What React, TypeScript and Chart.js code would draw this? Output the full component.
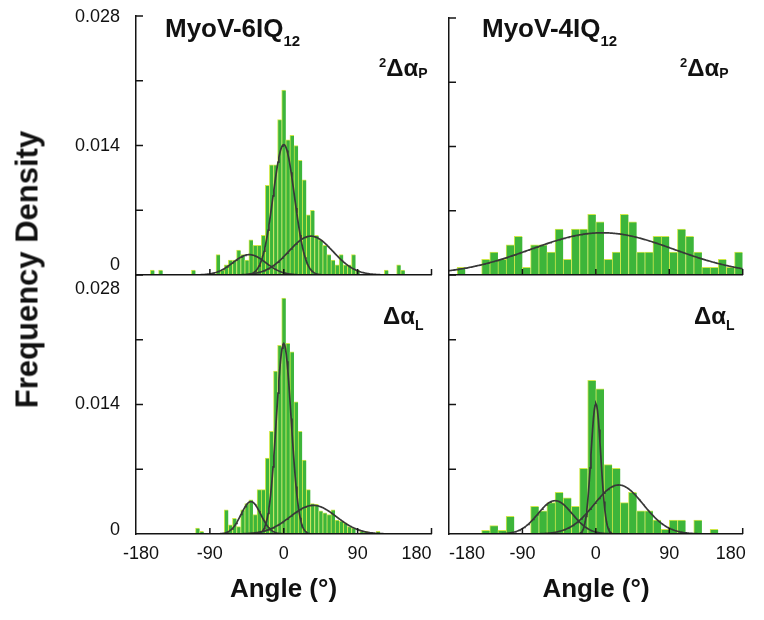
import React, { useEffect, useRef } from "react";
import { Chart, registerables } from "chart.js";

Chart.register(...registerables);

const FONT = '"Liberation Sans", Arial, Helvetica, sans-serif';
const AXIS_COLOR = "#141414";
const BAR_FILL = "#3db53a";
const BAR_EDGE = "#cfe84a";
const FIT_COLOR = "#383838";

// Axes
const angleMin = -180;
const angleMax = 180;
const angleStep = 90;
const densityMax = 0.028;
const densityStep = 0.007;

// Histogram bin centres (degrees)
const binCenters5 = Array.from({ length: 73 }, (_, i) => -180 + 5 * i); // 5-degree bins
const binCenters10 = Array.from({ length: 36 }, (_, i) => -175 + 10 * i); // 10-degree bins

// MyoV-6IQ12, 2ΔαP  (5-degree bins, -180 .. 180)
const density6P = [
  0, 0, 0, 0, 0.00054, 0, 0.00054, 0, 0, 0,
  0, 0, 0, 0, 0.00054, 0, 0, 0, 0, 0,
  0.0022, 0.00054, 0.0011, 0.0016, 0.0016, 0.0027, 0.0022, 0.0016, 0.0038, 0.0032,
  0.0032, 0.0043, 0.0097, 0.0119, 0.0119, 0.0168, 0.02, 0.0146, 0.0151, 0.014,
  0.0124, 0.0103, 0.0065, 0.007, 0.0043, 0.0038, 0.0032, 0.0022, 0.0016, 0.0011,
  0.0022, 0.0011, 0.0011, 0.0022, 0.00054, 0, 0, 0, 0, 0,
  0, 0.00054, 0, 0, 0.0011, 0.00054, 0, 0, 0, 0,
  0, 0, 0,
];

// MyoV-6IQ12, ΔαL  (5-degree bins)
const density6L = [
  0, 0, 0, 0, 0, 0, 0, 0, 0, 0,
  0, 0, 0, 0, 0, 0.00065, 0.0003, 0, 0, 0,
  0, 0, 0.0026, 0.001, 0.0017, 0.0008, 0.0026, 0.0033, 0.0037, 0.0021,
  0.0048, 0.0048, 0.0082, 0.0111, 0.0176, 0.0204, 0.0255, 0.0206, 0.0197, 0.0143,
  0.0111, 0.008, 0.0048, 0.0033, 0.0032, 0.0025, 0.0023, 0.0021, 0.0026, 0.0015,
  0.0014, 0.0012, 0.0008, 0.00065, 0, 0.0003, 0.0003, 0, 0, 0.0003,
  0, 0, 0, 0, 0, 0, 0, 0, 0, 0,
  0, 0, 0,
];

// MyoV-4IQ12, 2ΔαP  (10-degree bins)
const density4P = [
  0, 0.00083, 0, 0, 0.0017, 0.0025, 0.0017, 0.0033, 0.0042, 0.00083,
  0.0033, 0.0033, 0.0025, 0.005, 0.0017, 0.005, 0.005, 0.0066, 0.0058, 0.0017,
  0.0025, 0.0066, 0.0058, 0.0025, 0.0025, 0.0042, 0.0042, 0.0025, 0.005, 0.0042,
  0.0025, 0.00083, 0.00083, 0.0017, 0.00083, 0.0025,
];

// MyoV-4IQ12, ΔαL  (10-degree bins)
const density4L = [
  0, 0, 0, 0, 0.0004, 0.0009, 0.0004, 0.0019, 0, 0,
  0.003, 0.0025, 0.0034, 0.0045, 0.0039, 0.003, 0.0071, 0.0166, 0.0157, 0.0075,
  0.0071, 0.0034, 0.0045, 0.0025, 0.0025, 0.0015, 0.0005, 0.0015, 0.0015, 0,
  0.0015, 0, 0.0005, 0, 0, 0,
];

// Fitted Gaussian components: centre (deg), peak density, sigma (deg)
const fit6PCenter = [-42, 0, 33];
const fit6PPeak = [0.0022, 0.0141, 0.0042];
const fit6PSigma = [20, 13, 27];

const fit4PCenter = [8];
const fit4PPeak = [0.0046];
const fit4PSigma = [88];

const fit6LCenter = [-40, 0, 36];
const fit6LPeak = [0.0035, 0.0206, 0.0031];
const fit6LSigma = [12, 9, 28];

const fit4LCenter = [-50, 0, 28];
const fit4LPeak = [0.0036, 0.0141, 0.0053];
const fit4LSigma = [21, 6, 30];

const fitAngles = Array.from({ length: 361 }, (_, i) => -180 + i);

type Nudge = Record<string, [number, number]>;

type PanelSpec = {
  key: string;
  left: number;
  top: number;
  width: number;
  height: number;
  padding: { left: number; right: number; top: number; bottom: number };
  yWidth: number;
  xHeight: number;
  centers: number[];
  density: number[];
  fitCenter: number[];
  fitPeak: number[];
  fitSigma: number[];
  xLabels: boolean;
  yLabels: boolean;
  nudgeX: Nudge;
  nudgeY: Nudge;
};

const near = (a: number, b: number) => Math.abs(a - b) < 1e-7;

// tick marks drawn on the inside of the axes
const innerTicks = {
  id: "innerTicks",
  afterDraw(chart: any) {
    const { ctx, chartArea } = chart;
    const { left, bottom } = chartArea;
    ctx.save();
    ctx.strokeStyle = AXIS_COLOR;
    ctx.lineWidth = 1.5;
    const xs = chart.scales.x;
    xs.ticks.forEach((t: any) => {
      const px = xs.getPixelForValue(t.value);
      if (Math.abs(px - left) < 1) return;
      ctx.beginPath();
      ctx.moveTo(px, bottom);
      ctx.lineTo(px, bottom - 6);
      ctx.stroke();
    });
    const ys = chart.scales.y;
    ys.ticks.forEach((t: any) => {
      const py = ys.getPixelForValue(t.value);
      if (Math.abs(py - bottom) < 1) return;
      ctx.beginPath();
      ctx.moveTo(left, py);
      ctx.lineTo(left + 7, py);
      ctx.stroke();
    });
    ctx.restore();
  },
};

// small offsets for individual tick labels (as in the figure, where they avoid each other)
const labelNudge = {
  id: "labelNudge",
  beforeDraw(chart: any, _args: any, opts: any) {
    ["x", "y"].forEach((axis) => {
      const map = opts && opts[axis];
      const sc = chart.scales[axis];
      if (!map || !sc || !sc.options.ticks.display) return;
      const items = sc.getLabelItems(chart.chartArea);
      items.forEach((it: any) => {
        if (it.__nudged) return;
        const key = Array.isArray(it.label) ? it.label.join("") : String(it.label);
        const d = map[key];
        if (d) {
          it.options.translation[0] += d[0];
          it.options.translation[1] += d[1];
        }
        it.__nudged = true;
      });
    });
  },
};

function buildConfig(s: PanelSpec) {
  const bars = s.centers.map((x, i) => ({ x, y: s.density[i] > 0 ? s.density[i] : null }));
  const fits = s.fitCenter.map((c, j) => ({
    type: "line",
    data: fitAngles.map((a) => ({
      x: a,
      y: s.fitPeak[j] * Math.exp(-((a - c) * (a - c)) / (2 * s.fitSigma[j] * s.fitSigma[j])),
    })),
    borderColor: FIT_COLOR,
    borderWidth: 1.7,
    pointRadius: 0,
    fill: false,
    tension: 0,
    order: 0,
  }));
  const yCallback = (v: number) => {
    if (near(v, 0.028)) return "0.028";
    if (near(v, 0.014)) return "0.014";
    if (near(v, 0)) return "0";
    return "";
  };
  return {
    type: "bar",
    data: {
      datasets: [
        {
          type: "bar",
          data: bars,
          backgroundColor: BAR_FILL,
          borderColor: BAR_EDGE,
          borderWidth: { top: 1, left: 1, right: 0, bottom: 0 },
          borderSkipped: false,
          barPercentage: 1,
          categoryPercentage: 1,
          order: 1,
        },
        ...fits,
      ],
    },
    options: {
      responsive: false,
      animation: false,
      devicePixelRatio: 1,
      layout: { padding: s.padding },
      plugins: {
        legend: { display: false },
        tooltip: { enabled: false },
        title: { display: false },
        labelNudge: { x: s.nudgeX, y: s.nudgeY },
      },
      scales: {
        x: {
          type: "linear",
          min: angleMin,
          max: angleMax,
          offset: false,
          grid: { display: false, drawTicks: false, offset: false },
          border: { display: true, color: AXIS_COLOR, width: 1.5, z: 1 },
          ticks: {
            display: s.xLabels,
            stepSize: angleStep,
            align: "inner",
            padding: 9,
            autoSkip: false,
            maxRotation: 0,
            color: "#111",
            font: { family: FONT, size: 18 },
            callback: (v: number) => String(v),
          },
          afterFit: (sc: any) => {
            sc.height = s.xHeight;
          },
        },
        y: {
          type: "linear",
          min: 0,
          max: densityMax,
          grid: { display: false, drawTicks: false },
          border: { display: true, color: AXIS_COLOR, width: 1.5, z: 1 },
          ticks: {
            display: s.yLabels,
            stepSize: densityStep,
            padding: 16,
            autoSkip: false,
            color: "#111",
            font: { family: FONT, size: 18 },
            callback: yCallback,
          },
          afterFit: (sc: any) => {
            sc.width = s.yWidth;
          },
        },
      },
    },
    plugins: [innerTicks, labelNudge],
  };
}

const panels: PanelSpec[] = [
  {
    key: "tl",
    left: 0, top: -30, width: 445, height: 345,
    padding: { left: 0, top: 46, right: 13.5, bottom: 40 },
    yWidth: 136, xHeight: 0,
    centers: binCenters5, density: density6P,
    fitCenter: fit6PCenter, fitPeak: fit6PPeak, fitSigma: fit6PSigma,
    xLabels: false, yLabels: true,
    nudgeX: {},
    nudgeY: { "0.028": [0, 1], "0.014": [0, 1], "0": [0, -9.5] },
  },
  {
    key: "bl",
    left: 0, top: 230, width: 445, height: 350,
    padding: { left: 0, top: 45, right: 13.5, bottom: 10 },
    yWidth: 136, xHeight: 36,
    centers: binCenters5, density: density6L,
    fitCenter: fit6LCenter, fitPeak: fit6LPeak, fitSigma: fit6LSigma,
    xLabels: true, yLabels: true,
    nudgeX: { "-180": [-13, 0] },
    nudgeY: { "0.028": [0, 14.5], "0": [0, -4] },
  },
  {
    key: "tr",
    left: 435, top: 0, width: 329, height: 300,
    padding: { left: 0, top: 18, right: 21.3, bottom: 25 },
    yWidth: 14, xHeight: 0,
    centers: binCenters10, density: density4P,
    fitCenter: fit4PCenter, fitPeak: fit4PPeak, fitSigma: fit4PSigma,
    xLabels: false, yLabels: false,
    nudgeX: {}, nudgeY: {},
  },
  {
    key: "br",
    left: 435, top: 230, width: 329, height: 350,
    padding: { left: 0, top: 45, right: 21.3, bottom: 10 },
    yWidth: 14, xHeight: 36,
    centers: binCenters10, density: density4L,
    fitCenter: fit4LCenter, fitPeak: fit4LPeak, fitSigma: fit4LSigma,
    xLabels: true, yLabels: false,
    nudgeX: { "180": [3, 0] }, nudgeY: {},
  },
];

function Panel({ spec }: { spec: PanelSpec }) {
  const ref = useRef<HTMLCanvasElement | null>(null);
  useEffect(() => {
    if (!ref.current) return;
    const chart = new Chart(ref.current, buildConfig(spec) as any);
    return () => chart.destroy();
  }, [spec]);
  return (
    <canvas
      ref={ref}
      width={spec.width}
      height={spec.height}
      style={{ position: "absolute", left: spec.left, top: spec.top, width: spec.width, height: spec.height }}
    />
  );
}

const txt: React.CSSProperties = {
  position: "absolute",
  fontFamily: FONT,
  fontWeight: 700,
  color: "#111",
  lineHeight: 1,
  whiteSpace: "nowrap",
};

function Title({ left, top, name }: { left: number; top: number; name: string }) {
  return (
    <div style={{ ...txt, left, top, fontSize: 26 }}>
      {name}
      <span style={{ fontSize: 15, position: "relative", top: 9 }}>12</span>
    </div>
  );
}

function AnnotP({ left }: { left: number }) {
  return (
    <div style={{ ...txt, left, top: 56, fontSize: 24 }}>
      <span style={{ fontSize: 13, position: "relative", top: -9 }}>2</span>
      Δα
      <span style={{ fontSize: 14, position: "relative", top: 2 }}>P</span>
    </div>
  );
}

function AnnotL({ left }: { left: number }) {
  return (
    <div style={{ ...txt, left, top: 304, fontSize: 24 }}>
      Δα
      <span style={{ fontSize: 14, position: "relative", top: 6 }}>L</span>
    </div>
  );
}

export default function App() {
  return (
    <div style={{ position: "absolute", left: 0, top: 0, width: 764, height: 620, background: "#fff", overflow: "hidden" }}>
      {panels.map((p) => (
        <Panel key={p.key} spec={p} />
      ))}
      <Title left={165} top={15} name="MyoV-6IQ" />
      <Title left={482} top={15} name="MyoV-4IQ" />
      <AnnotP left={379} />
      <AnnotP left={680} />
      <AnnotL left={383} />
      <AnnotL left={694} />
      <div style={{ ...txt, left: 183.5, top: 575, width: 200, textAlign: "center", fontSize: 26 }}>Angle (°)</div>
      <div style={{ ...txt, left: 496, top: 575, width: 200, textAlign: "center", fontSize: 26 }}>Angle (°)</div>
      <div
        style={{
          ...txt,
          left: 27 - 200,
          top: 269 - 15.5,
          width: 400,
          height: 31,
          textAlign: "center",
          fontSize: 31,
          transform: "rotate(-90deg)",
        }}
      >
        Frequency Density
      </div>
    </div>
  );
}
